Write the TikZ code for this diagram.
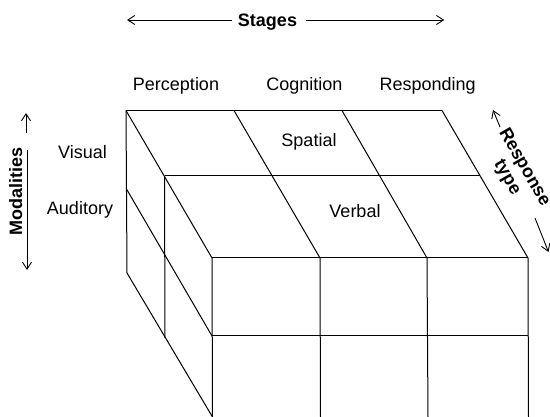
\documentclass[tikz,border=0pt]{standalone}
\usepackage{fontspec}
\setmainfont{Liberation Sans}
\usetikzlibrary{arrows.meta}
\begin{document}
\begin{tikzpicture}[x=1pt,y=-1pt,
  edge/.style={line width=1pt, black},
  arr/.style={line width=0.9pt, -{Straight Barb[length=7pt,width=9pt]}},
  lbl/.style={font=\fontsize{18}{21}\selectfont, inner sep=0pt},
  blbl/.style={font=\fontsize{18}{21}\selectfont\bfseries, inner sep=0pt},
  ]
\useasboundingbox (0,0) rectangle (550,417);

% ---- cube coordinates ----
% back top edge
\coordinate (B0) at (126,110.5);
\coordinate (B1) at (234,110.5);
\coordinate (B2) at (342,110.5);
\coordinate (B3) at (442,110.5);
% middle depth
\coordinate (M0) at (164.5,176);
\coordinate (M3) at (480,176);
% front top
\coordinate (F0) at (212,258);
\coordinate (F1) at (320,258);
\coordinate (F2) at (427,258);
\coordinate (F3) at (528,258);
% front middle
\coordinate (G0) at (212,336);
\coordinate (G3) at (528,336);
% front bottom (cropped)
\coordinate (H0) at (212.5,417);
\coordinate (H1) at (320.5,417);
\coordinate (H2) at (428,417);
\coordinate (H3) at (528.5,417);
% left face
\coordinate (L0) at (126.5,189);
\coordinate (Lb) at (127,273);
\coordinate (Mb) at (165,338);

% ---- top face ----
\draw[edge] (B0) -- (B3);
\draw[edge] (M0) -- (M3);
\draw[edge] (F0) -- (F3);
\draw[edge] (B0) -- (F0);
\draw[edge] (B1) -- (F1);
\draw[edge] (B2) -- (F2);
\draw[edge] (B3) -- (F3);

% ---- front face ----
\draw[edge] (G0) -- (G3);
\draw[edge] (F0) -- (H0);
\draw[edge] (F1) -- (H1);
\draw[edge] (F2) -- (H2);
\draw[edge] (F3) -- (H3);

% ---- left face ----
\draw[edge] (B0) -- (Lb);
\draw[edge] (M0) -- (Mb);
\draw[edge] (L0) -- (G0);
\draw[edge] (Lb) -- (H0);

% ---- labels ----
\node[lbl, anchor=base] (perc) at (176,90.7) {Perception};
\node[lbl, anchor=base] (cogn) at (304.5,90.7) {Cognition};
\node[lbl, anchor=base] (resp) at (427.7,90.7) {Responding};
\node[lbl, anchor=base] (spat) at (309,146.7) {Spatial};
\node[lbl, anchor=base] (verb) at (355,217.3) {Verbal};
\node[lbl, anchor=base] (vis) at (82.5,158.3) {Visual};
\node[lbl, anchor=base] (aud) at (80,215) {Auditory};

\node[blbl, anchor=base] (stages) at (267.5,26.3) {Stages};
\node[blbl, anchor=base, rotate=90] (mod) at (22,191.5) {Modalities};
\node[blbl, rotate=-60, align=center,
      font=\fontsize{18}{20}\selectfont\bfseries] (rt) at (515.5,172.5) {Response\\type};

% ---- arrows ----
\coordinate (sLs) at (231.7,20);
\coordinate (sLe) at (127,20);
\coordinate (sRs) at (306,20);
\coordinate (sRe) at (444.3,20);
\draw[arr] (sLs) -- (sLe);
\draw[arr] (sRs) -- (sRe);

\coordinate (mUs) at (26,133);
\coordinate (mUe) at (26,113);
\coordinate (mDs) at (27,150);
\coordinate (mDe) at (27,270);
\draw[arr] (mUs) -- (mUe);
\draw[arr] (mDs) -- (mDe);

\coordinate (rUs) at (500,127);
\coordinate (rUe) at (493,110);
\coordinate (rDs) at (535,218);
\coordinate (rDe) at (548.5,252);
\draw[arr] (rUs) -- (rUe);
\draw[arr] (rDs) -- (rDe);
\end{tikzpicture}
\end{document}
